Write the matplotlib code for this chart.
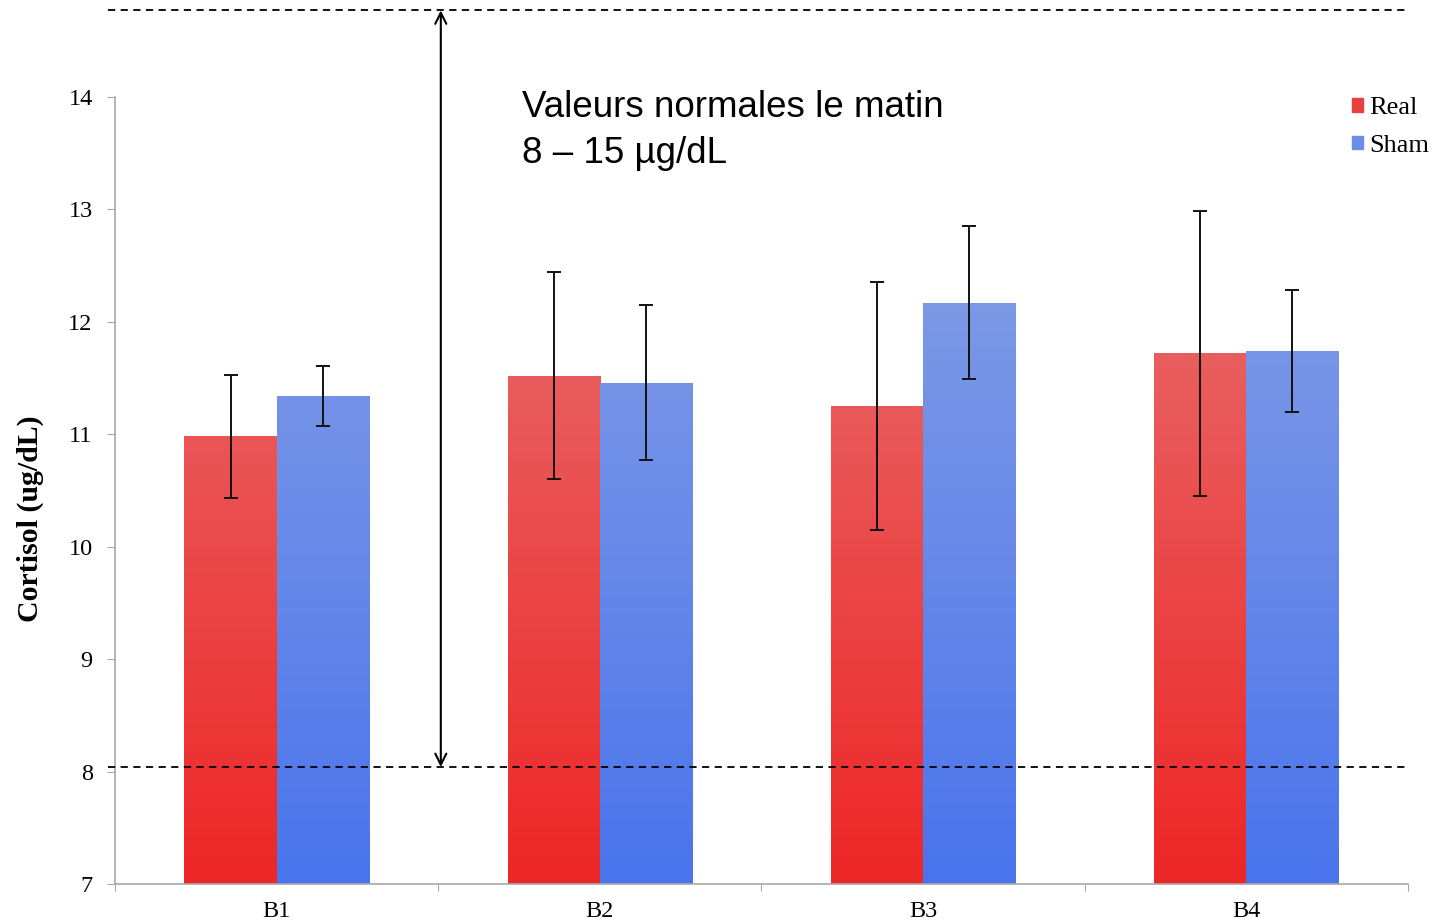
import matplotlib.pyplot as plt
import numpy as np
from matplotlib.patches import Patch
from matplotlib.colors import LinearSegmentedColormap

groups = ['B1', 'B2', 'B3', 'B4']
real = [10.98, 11.52, 11.25, 11.72]
real_err = [0.55, 0.92, 1.10, 1.27]
sham = [11.34, 11.46, 12.17, 11.74]
sham_err = [0.27, 0.69, 0.68, 0.54]
normal_low, normal_high = 8.04, 14.77
yticks = [7, 8, 9, 10, 11, 12, 13, 14]

serif = 'Liberation Serif'
fig = plt.figure(figsize=(14.35, 9.23), dpi=100)
ax = fig.add_axes([0.0801, 0.0423, 0.9011, 0.9501])

x = np.arange(len(groups))
w = 0.285
red_cmap = LinearSegmentedColormap.from_list('r', ['#EE2626', '#E86868'])
blue_cmap = LinearSegmentedColormap.from_list('b', ['#4A74EC', '#7F9BE6'])

ax.set_xlim(-0.5, 3.5)
ax.set_ylim(7, 14.8)

for vals, off, cmap in [(real, -w / 2, red_cmap), (sham, w / 2, blue_cmap)]:
    bars = ax.bar(x + off, vals, w, bottom=0, color='none', edgecolor='none')
    grad = np.linspace(0, 1, 256).reshape(-1, 1)
    for b in bars:
        im = ax.imshow(grad, cmap=cmap, origin='lower', aspect='auto',
                       extent=[b.get_x(), b.get_x() + w, 7, 12.5], zorder=1)
        im.set_clip_path(b)

ax.errorbar(x - w / 2, real, yerr=real_err, fmt='none', ecolor='#111111',
            elinewidth=1.4, capsize=5, capthick=1.4, zorder=3)
ax.errorbar(x + w / 2, sham, yerr=sham_err, fmt='none', ecolor='#111111',
            elinewidth=1.4, capsize=5, capthick=1.4, zorder=3)

# axes look
for s in ['top', 'right']:
    ax.spines[s].set_visible(False)
for s in ['left', 'bottom']:
    ax.spines[s].set_color('#A8A8A8')
    ax.spines[s].set_linewidth(1.2)
ax.spines['left'].set_bounds(7, 14)
ax.set_yticks(yticks)
ax.set_yticklabels([str(t) for t in yticks], fontfamily=serif, fontsize=17.5)
ax.set_xticks(np.arange(-0.5, 4.0, 1.0))
ax.set_xticklabels([])
ax.set_xticks(x, minor=True)
ax.set_xticklabels(groups, minor=True, fontfamily=serif, fontsize=17.5)
ax.tick_params(axis='x', which='minor', length=0, pad=12)
ax.tick_params(axis='x', which='major', length=5, color='#A8A8A8', direction='out')
ax.tick_params(axis='y', length=6, color='#A8A8A8', pad=10)
ax.set_ylabel('Cortisol (ug/dL)', fontfamily=serif, fontsize=21.5,
              fontweight='bold')
ax.yaxis.set_label_coords(-0.055, 0.417)

# normal range annotation
for yv in [normal_low, normal_high]:
    ax.plot([-0.52, 3.5], [yv, yv], ls=(0, (4, 3)), color='black', lw=1.3,
            clip_on=False, zorder=4)
ax.annotate('', xy=(0.508, normal_high), xytext=(0.508, normal_low),
            arrowprops=dict(arrowstyle='<->', color='black', lw=1.5,
                            mutation_scale=20, shrinkA=0, shrinkB=0),
            annotation_clip=False)
ax.text(0.759, 13.82, 'Valeurs normales le matin', fontfamily='Liberation Sans',
        fontsize=26.5, va='baseline')
ax.text(0.759, 13.41, '8 \u2013 15 \u00b5g/dL', fontfamily='Liberation Sans',
        fontsize=26.5, va='baseline')

handles = [Patch(color='#E84040', label='Real'), Patch(color='#6A8EEA', label='Sham')]
ax.legend(handles=handles, loc='upper left', bbox_to_anchor=(0.957, 0.897),
          frameon=False, prop={'family': serif, 'size': 19},
          handlelength=0.4, handleheight=0.4, handletextpad=0.25,
          labelspacing=0.6, borderaxespad=0, borderpad=0)

fig.savefig('out.png', dpi=100)
